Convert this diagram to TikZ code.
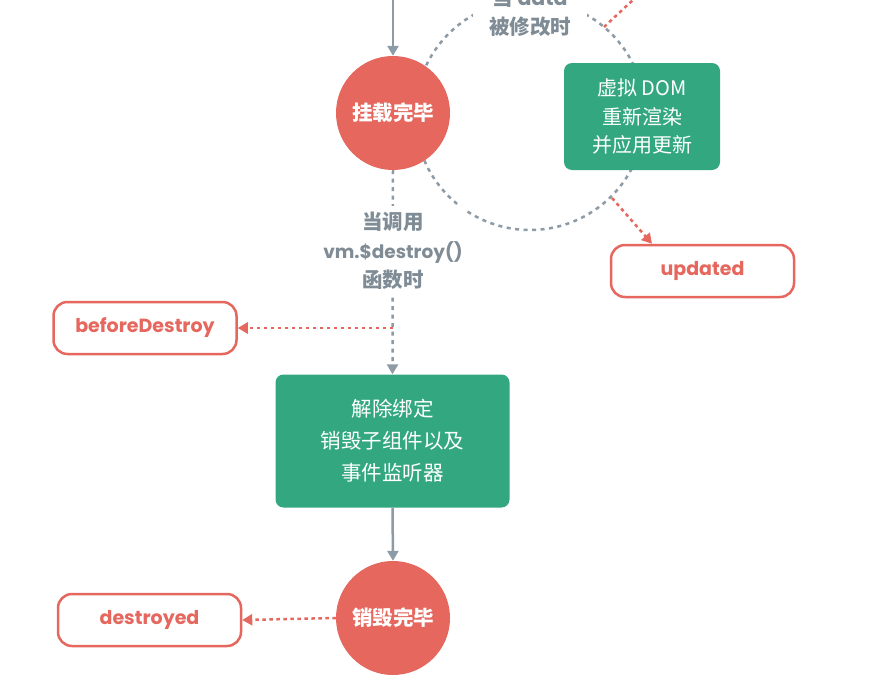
\documentclass[tikz,border=0pt]{standalone}
\usepackage{fontspec}
\setmainfont{Noto Sans CJK SC}
\newfontfamily\pop{Poppins}
\usetikzlibrary{arrows.meta}
\definecolor{vred}{HTML}{E5675E}
\definecolor{vgreen}{HTML}{33A880}
\definecolor{vgray}{HTML}{8C9BA6}
\definecolor{vgtext}{HTML}{7F8C96}
\begin{document}
\begin{tikzpicture}[x=1pt,y=-1pt,
  circ/.style={circle, fill=vred, minimum size=114pt, inner sep=0pt, text=white, font=\fontsize{20.5}{24}\selectfont\bfseries},
  gbox/.style={rectangle, rounded corners=8pt, fill=vgreen, text=white, align=center, inner sep=0pt},
  hook/.style={rectangle, rounded corners=14pt, draw=vred, line width=2.5pt, fill=white, text=vred, inner sep=0pt, minimum width=183pt, minimum height=52pt, font=\pop\bfseries\fontsize{19}{22}\selectfont},
  glabel/.style={fill=white, text=vgtext, align=center, inner xsep=16pt, inner ysep=2pt},
  flow/.style={draw=vgray, line width=2.5pt, -{Triangle[length=10pt,width=11pt]}},
  gdash/.style={draw=vgray, line width=2.5pt, dash pattern=on 4pt off 4.5pt},
  rdash/.style={draw=vred, line width=2.5pt, dash pattern=on 3.5pt off 3.5pt, -{Triangle[length=10pt,width=11pt]}}
]
\clip (0,0) rectangle (884,680);
\fill[white] (0,0) rectangle (884,680);

% update loop circle
\draw[gdash] (530,115) circle (115pt);

% red dotted line to the hook above (off picture)
\coordinate (loopTR) at (604,27);
\coordinate (offTop) at (665,-30);
\draw[draw=vred, line width=2.5pt, dash pattern=on 3.5pt off 3.5pt] (loopTR) -- (offTop);

\node[glabel, font=\fontsize{20.5}{29}\selectfont\bfseries] (datachg) at (530,12) {当 {\pop data}\\被修改时};

% nodes
\node[circ] (mounted) at (393,113) {挂载完毕};
\node[gbox, minimum width=156pt, minimum height=107pt, font=\fontsize{20}{28.5}\selectfont] (vdom) at (642,116.5) {虚拟 DOM\\重新渲染\\并应用更新};
\node[hook] (updated) at (702.5,271) {updated};
\node[hook] (beforeDestroy) at (145,328) {beforeDestroy};
\node[gbox, minimum width=234pt, minimum height=133pt, font=\fontsize{20.5}{32}\selectfont] (teardown) at (392.5,441) {解除绑定\\销毁子组件以及\\事件监听器};
\node[circ] (destroyedC) at (393,618) {销毁完毕};
\node[hook] (destroyed) at (149.5,620) {destroyed};

% connectors
\coordinate (topIn) at (393,-5);
\draw[flow] (topIn) -- (mounted.north);

\coordinate (loopBR) at (612,198);
\draw[rdash] (loopBR) -- (updated.north west -| 652,244);

\draw[gdash, -{Triangle[length=10pt,width=11pt]}] (mounted.south) -- (teardown.north);
\node[glabel, font=\fontsize{20.5}{29}\selectfont\bfseries, inner xsep=4pt, inner ysep=6pt] (destroyCall) at (393,251) {当调用\\{\pop\fontsize{18.5}{29}\selectfont vm.\$destroy()}\\函数时};

\coordinate (bdTap) at (393,328);
\draw[rdash] (bdTap) -- (beforeDestroy.east);

\draw[flow] (teardown.south) -- (destroyedC.north);
\draw[rdash] (destroyedC.west) -- (destroyed.east);
\end{tikzpicture}
\end{document}
